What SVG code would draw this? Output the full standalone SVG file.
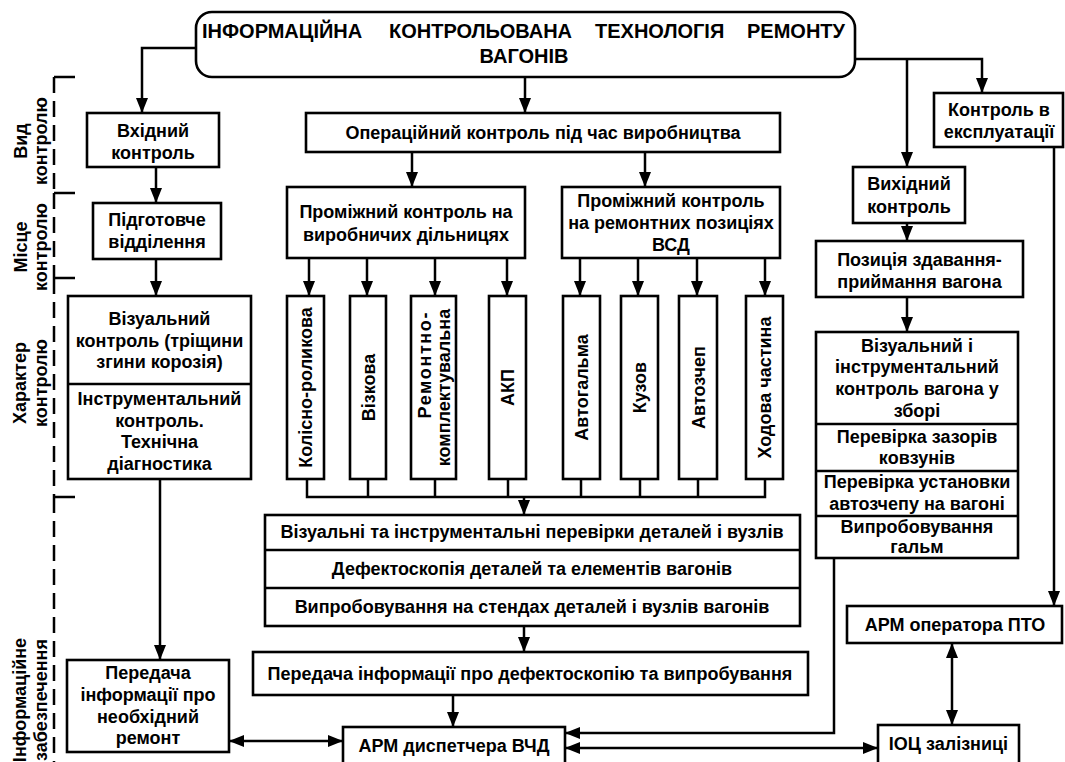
<svg xmlns="http://www.w3.org/2000/svg" width="1065" height="762" viewBox="0 0 1065 762">
  <defs>
    <style>
      .box { fill: #fff; stroke: #000; stroke-width: 2.6; }
      .ln { fill: none; stroke: #000; stroke-width: 2.5; }
      .arr { marker-end: url(#ah); }
      .bi { marker-start: url(#ah); marker-end: url(#ah); }
      .dash { fill: none; stroke: #000; stroke-width: 2.5; stroke-dasharray: 16 8; }
      text { font-family: "Liberation Sans", Arial, sans-serif; font-weight: bold; font-size: 18px; fill: #000; }
      .c { text-anchor: middle; }
      .title { font-size: 20px; }
    </style>
    <marker id="ah" viewBox="0 0 15 12" refX="15" refY="6" markerWidth="15" markerHeight="12" markerUnits="userSpaceOnUse" orient="auto-start-reverse">
      <path d="M0,0 L15,6 L0,12 Z" fill="#000"/>
    </marker>
  </defs>
  <rect width="1065" height="762" fill="#fff"/>

  <!-- side scale: control categories -->
  <g id="scale">
    <path class="dash" d="M54,77 V193"/>
    <path class="dash" d="M54,193 V278"/>
    <path class="dash" d="M54,278 V497"/>
    <path class="dash" d="M54,497 V762"/>
    <path class="ln" d="M54,77 H75 M54,193 H75 M54,278 H75 M54,497 H75"/>
    <g transform="translate(0,141) rotate(-90)">
      <text class="c" y="27">Вид</text>
      <text class="c" y="47">контролю</text>
    </g>
    <g transform="translate(0,247) rotate(-90)">
      <text class="c" y="27">Місце</text>
      <text class="c" y="47">контролю</text>
    </g>
    <g transform="translate(0,383) rotate(-90)">
      <text class="c" y="26">Характер</text>
      <text class="c" y="47">контролю</text>
    </g>
    <g transform="translate(0,700) rotate(-90)">
      <text class="c" y="26">Інформаційне</text>
      <text class="c" y="47">забезпечення</text>
    </g>
  </g>

  <!-- connectors -->
  <g id="connectors">
    <path class="ln arr" d="M196,48 H142 V113"/>
    <path class="ln arr" d="M525,77 V113"/>
    <path class="ln arr" d="M853,59 H982 V93"/>
    <path class="ln arr" d="M907,59 V167"/>
    <path class="ln arr" d="M156,167 V203"/>
    <path class="ln arr" d="M156,259 V296"/>
    <path class="ln arr" d="M160,479 V660"/>
    <path class="ln arr" d="M412,152 V187"/>
    <path class="ln arr" d="M645,152 V187"/>
    <path class="ln arr" d="M309,258 V296"/>
    <path class="ln arr" d="M367,258 V296"/>
    <path class="ln arr" d="M435,258 V296"/>
    <path class="ln arr" d="M507,258 V296"/>
    <path class="ln arr" d="M580,258 V296"/>
    <path class="ln arr" d="M638,258 V296"/>
    <path class="ln arr" d="M697,258 V296"/>
    <path class="ln arr" d="M765,258 V296"/>
    <path class="ln" d="M307,479 V497 H765 V479 M368,479 V497 M435,479 V497 M508,479 V497 M581,479 V497 M640,479 V497 M698,479 V497"/>
    <path class="ln arr" d="M524,497 V515"/>
    <path class="ln arr" d="M524,626 V652"/>
    <path class="ln arr" d="M453,695 V727"/>
    <path class="ln arr" d="M907,223 V241"/>
    <path class="ln arr" d="M907,297 V332"/>
    <path class="ln arr" d="M1054,147 V606"/>
    <path class="ln arr" d="M834,558 V733 H565"/>
    <path class="ln bi" d="M229,741 H343"/>
    <path class="ln bi" d="M565,748 H878"/>
    <path class="ln bi" d="M952,643 V725"/>
  </g>

  <!-- title -->
  <g id="title">
    <rect class="box" x="196" y="12" width="659" height="65" rx="16"/>
    <text class="title" x="202" y="38">ІНФОРМАЦІЙНА</text>
    <text class="title" x="389" y="38">КОНТРОЛЬОВАНА</text>
    <text class="title" x="595" y="38">ТЕХНОЛОГІЯ</text>
    <text class="title" x="845" y="38" text-anchor="end">РЕМОНТУ</text>
    <text class="title c" x="524" y="63">ВАГОНІВ</text>
  </g>

  <!-- left branch -->
  <g id="vkhidnyi">
    <rect class="box" x="87" y="113" width="132" height="54"/>
    <text class="c" x="153" y="137">Вхідний</text>
    <text class="c" x="153" y="159">контроль</text>
  </g>
  <g id="pidgotovche">
    <rect class="box" x="93" y="203" width="128" height="56"/>
    <text class="c" x="157" y="226">Підготовче</text>
    <text class="c" x="157" y="248">відділення</text>
  </g>
  <g id="vizualnyi">
    <rect class="box" x="68" y="296" width="183" height="183"/>
    <path class="ln" d="M68,384 H251"/>
    <text class="c" x="159.5" y="325">Візуальний</text>
    <text class="c" x="159.5" y="347">контроль (тріщини</text>
    <text class="c" x="159.5" y="368">згини корозія)</text>
    <text class="c" x="159.5" y="405">Інструментальний</text>
    <text class="c" x="159.5" y="427">контроль.</text>
    <text class="c" x="159.5" y="448">Технічна</text>
    <text class="c" x="159.5" y="470">діагностика</text>
  </g>
  <g id="peredacha-remont">
    <rect class="box" x="67" y="660" width="162" height="92"/>
    <text class="c" x="148" y="679">Передача</text>
    <text class="c" x="148" y="701">інформації про</text>
    <text class="c" x="148" y="723">необхідний</text>
    <text class="c" x="148" y="744">ремонт</text>
  </g>

  <!-- production control -->
  <g id="operatsiinyi">
    <rect class="box" x="306" y="113" width="474" height="39"/>
    <text class="c" x="543" y="139">Операційний контроль під час виробництва</text>
  </g>
  <g id="promizhnyi-dilnytsi">
    <rect class="box" x="287" y="187" width="238" height="71"/>
    <text class="c" x="406" y="218">Проміжний контроль на</text>
    <text class="c" x="406" y="241">виробничих дільницях</text>
  </g>
  <g id="promizhnyi-pozytsii">
    <rect class="box" x="562" y="187" width="218" height="71"/>
    <text class="c" x="671" y="207">Проміжний контроль</text>
    <text class="c" x="671" y="229">на ремонтних позиціях</text>
    <text class="c" x="671" y="251">ВСД</text>
  </g>

  <!-- workshop columns -->
  <g id="kolisno">
    <rect class="box" x="287" y="296" width="37" height="183"/>
    <text class="c" transform="translate(305.5,387.5) rotate(-90)" y="6.5">Колісно-роликова</text>
  </g>
  <g id="vizkova">
    <rect class="box" x="350" y="296" width="36" height="183"/>
    <text class="c" transform="translate(368,387.5) rotate(-90)" y="6.5">Візкова</text>
  </g>
  <g id="remontno">
    <rect class="box" x="411" y="296" width="45" height="183"/>
    <g transform="translate(433.5,387.5) rotate(-90)">
      <text x="-31" y="-3" textLength="106" lengthAdjust="spacing">Ремонтно-</text>
      <text class="c" y="16">комплектувальна</text>
    </g>
  </g>
  <g id="akp">
    <rect class="box" x="489" y="296" width="37" height="183"/>
    <text class="c" transform="translate(507.5,387.5) rotate(-90)" y="6.5">АКП</text>
  </g>
  <g id="avtogalma">
    <rect class="box" x="563" y="296" width="37" height="183"/>
    <text class="c" transform="translate(581.5,387.5) rotate(-90)" y="6.5">Автогальма</text>
  </g>
  <g id="kuzov">
    <rect class="box" x="621" y="296" width="37" height="183"/>
    <text class="c" transform="translate(639.5,387.5) rotate(-90)" y="6.5">Кузов</text>
  </g>
  <g id="avtozchep">
    <rect class="box" x="679" y="296" width="38" height="183"/>
    <text class="c" transform="translate(698,387.5) rotate(-90)" y="6.5">Автозчеп</text>
  </g>
  <g id="khodova">
    <rect class="box" x="746" y="296" width="37" height="183"/>
    <text class="c" transform="translate(764.5,387.5) rotate(-90)" y="6.5">Ходова частина</text>
  </g>

  <!-- checks and information -->
  <g id="perevirky">
    <rect class="box" x="265" y="515" width="535" height="111"/>
    <path class="ln" d="M265,550 H800 M265,588 H800"/>
    <text class="c" x="532" y="538">Візуальні та інструментальні перевірки деталей і вузлів</text>
    <text class="c" x="532" y="575">Дефектоскопія деталей та елементів вагонів</text>
    <text class="c" x="532" y="613">Випробовування на стендах деталей і вузлів  вагонів</text>
  </g>
  <g id="peredacha-defekt">
    <rect class="box" x="253" y="652" width="555" height="43"/>
    <text class="c" x="530" y="680">Передача інформації про дефектоскопію та випробування</text>
  </g>
  <g id="arm-vchd">
    <rect class="box" x="343" y="727" width="222" height="40"/>
    <text class="c" x="454" y="752">АРМ диспетчера ВЧД</text>
  </g>

  <!-- right branch -->
  <g id="kontrol-ekspl">
    <rect class="box" x="934" y="93" width="129" height="54"/>
    <text class="c" x="999" y="116">Контроль в</text>
    <text class="c" x="999" y="138">експлуатації</text>
  </g>
  <g id="vykhidnyi">
    <rect class="box" x="853" y="167" width="112" height="56"/>
    <text class="c" x="909" y="190">Вихідний</text>
    <text class="c" x="909" y="213">контроль</text>
  </g>
  <g id="pozytsiia">
    <rect class="box" x="816" y="241" width="207" height="56"/>
    <text class="c" x="919.5" y="266">Позиція здавання-</text>
    <text class="c" x="919.5" y="288">приймання вагона</text>
  </g>
  <g id="kontrol-zbori">
    <rect class="box" x="816" y="332" width="202" height="226"/>
    <path class="ln" d="M816,424 H1018 M816,471 H1018 M816,516 H1018"/>
    <text class="c" x="917" y="352">Візуальний і</text>
    <text class="c" x="917" y="373">інструментальний</text>
    <text class="c" x="917" y="395">контроль вагона у</text>
    <text class="c" x="917" y="417">зборі</text>
    <text class="c" x="917" y="443">Перевірка зазорів</text>
    <text class="c" x="917" y="464">ковзунів</text>
    <text class="c" x="917" y="488">Перевірка установки</text>
    <text class="c" x="917" y="510">автозчепу на вагоні</text>
    <text class="c" x="917" y="533">Випробовування</text>
    <text class="c" x="917" y="553">гальм</text>
  </g>
  <g id="arm-pto">
    <rect class="box" x="847" y="606" width="215" height="37"/>
    <text class="c" x="955" y="631">АРМ оператора ПТО</text>
  </g>
  <g id="iots">
    <rect class="box" x="878" y="725" width="141" height="42"/>
    <text class="c" x="948.5" y="750">ІОЦ залізниці</text>
  </g>
</svg>
